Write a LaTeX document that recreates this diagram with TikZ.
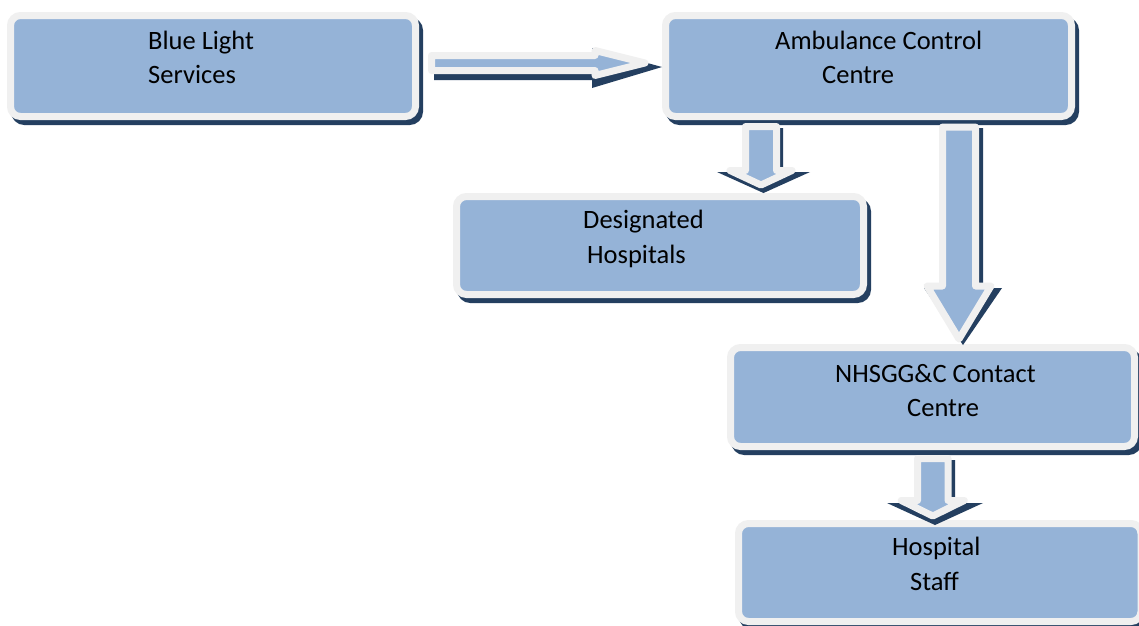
\documentclass[tikz,border=0pt]{standalone}
\usepackage{fontspec}
\setmainfont{Carlito}
\usetikzlibrary{calc,backgrounds}
\definecolor{boxfill}{HTML}{95B3D7}
\definecolor{boxline}{HTML}{F0F0F0}
\definecolor{shadowc}{HTML}{243F60}
\begin{document}
\begin{tikzpicture}[x=1pt,y=-1pt,
  box/.style={draw=boxline, fill=boxfill, line width=7pt, rounded corners=10pt, outer sep=0pt, inner sep=0pt},
  boxshadow/.style={draw=shadowc, fill=shadowc, line width=7pt, rounded corners=10pt},
  lbl/.style={anchor=base west, inner sep=0pt, font=\fontsize{26.5}{32}\selectfont},
  arrowbody/.style={draw=boxline, fill=boxfill, line width=7pt, line join=round},
  arrowshadow/.style={fill=shadowc},
  bdown/.style n args={3}{to path={let \p1=(\tikztostart), \p2=(\tikztotarget) in
     (\x1-#1,\y1) -- (\x1-#1,\y2+#3) -- (\x1-#2,\y2+#3) -- (\x2,\y2) -- (\x1+#2,\y2+#3) -- (\x1+#1,\y2+#3) -- (\x1+#1,\y1) -- cycle}},
  bright/.style n args={3}{to path={let \p1=(\tikztostart), \p2=(\tikztotarget) in
     (\x1,\y1+#1) -- (\x2-#3,\y1+#1) -- (\x2-#3,\y1+#2) -- (\x2,\y2) -- (\x2-#3,\y1-#2) -- (\x2-#3,\y1-#1) -- (\x1,\y1-#1) -- cycle}},
]
\useasboundingbox (0,0) rectangle (1139,625);

% boxes
\node[box, minimum width=405pt, minimum height=101pt] (bl)  at (213,66) {};
\node[box, minimum width=406pt, minimum height=101pt] (amb) at (868.5,66) {};
\node[box, minimum width=407pt, minimum height=98pt]  (des) at (660,245.5) {};
\node[box, minimum width=404pt, minimum height=99pt]  (nhs) at (932.5,397) {};
\node[box, minimum width=402.5pt, minimum height=98pt] (hs) at (939.75,572.5) {};

% white page and box shadows
\begin{scope}[on background layer]
  \fill[white] (0,0) rectangle (1139,625);
  \foreach \n in {bl,amb,des,nhs,hs}{
    \draw[boxshadow] ([xshift=4pt,yshift=-5pt]\n.north west) rectangle ([xshift=4pt,yshift=-5pt]\n.south east);
  }
\end{scope}

% labels
\node[lbl] (bl1) at (148,49) {Blue Light};
\node[lbl] (bl2) at (148,83) {Services};
\node[lbl] (am1) at (775,49) {Ambulance Control};
\node[lbl] (am2) at (822,83) {Centre};
\node[lbl] (de1) at (583,228) {Designated};
\node[lbl] (de2) at (587,263) {Hospitals};
\node[lbl] (nh1) at (835,382) {NHSGG\&C Contact};
\node[lbl] (nh2) at (907,416) {Centre};
\node[lbl] (hs1) at (892,555) {Hospital};
\node[lbl] (hs2) at (910,590) {Staff};

% arrow A: Blue Light -> Ambulance
\fill[arrowshadow, bright={12pt}{20pt}{70pt}] ([xshift=18.5pt,yshift=-2pt]bl.east) to ([xshift=-3.5pt,yshift=-1pt]amb.west);
\draw[arrowbody, bright={7.5pt}{12.5pt}{50pt}] ([xshift=16pt,yshift=3pt]bl.east) to ([xshift=-20.5pt,yshift=3pt]amb.west);

% arrow B: Ambulance -> Designated
\fill[arrowshadow, bdown={19.5pt}{46.5pt}{21pt}] ([xshift=-105pt,yshift=-11.5pt]amb.south) to ([xshift=103.5pt,yshift=3.5pt]des.north);
\draw[arrowbody, bdown={15.5pt}{31pt}{14.5pt}] ([xshift=-107.5pt,yshift=-10pt]amb.south) to ([xshift=101pt,yshift=11.5pt]des.north);

% arrow C: Ambulance -> NHSGG&C
\fill[arrowshadow, bdown={20pt}{39pt}{57pt}] ([xshift=94.5pt,yshift=-11.5pt]amb.south) to ([xshift=30.5pt,yshift=2.5pt]nhs.north);
\draw[arrowbody, bdown={16.5pt}{32pt}{53pt}] ([xshift=90.5pt,yshift=-10.5pt]amb.south) to ([xshift=26.5pt,yshift=8.5pt]nhs.north);

% arrow D: NHSGG&C -> Hospital Staff
\fill[arrowshadow, bdown={20pt}{48pt}{22pt}] ([xshift=2.5pt,yshift=-13.5pt]nhs.south) to ([xshift=-4.75pt,yshift=-1.5pt]hs.north);
\draw[arrowbody, bdown={15.25pt}{31.5pt}{15.5pt}] ([xshift=0.25pt,yshift=-12pt]nhs.south) to ([xshift=-7pt,yshift=7.5pt]hs.north);
\end{tikzpicture}
\end{document}
